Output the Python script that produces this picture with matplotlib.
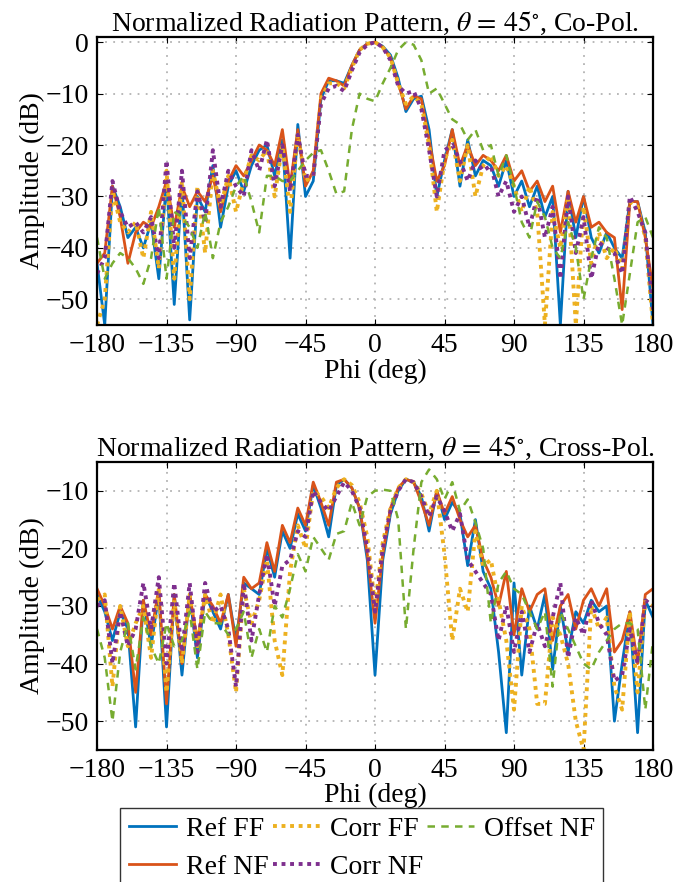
import matplotlib
matplotlib.use("Agg")
import matplotlib.pyplot as plt
import numpy as np

plt.rcParams.update({
    "font.family": ["Liberation Serif", "DejaVu Serif"],
    "mathtext.fontset": "stix",
    "font.size": 20,
    "axes.linewidth": 1.6,
    "xtick.direction": "in",
    "ytick.direction": "in",
    "xtick.top": True,
    "ytick.right": True,
    "xtick.major.size": 4,
    "ytick.major.size": 4,
    "xtick.major.width": 0.8,
    "ytick.major.width": 0.8,
    "xtick.major.pad": 6,
    "ytick.major.pad": 6,
})

# Phi sampling (deg), 5 deg steps
PHI = np.arange(-180, 181, 5)

# ---- Co-Pol (top panel), dB ----
co_ref_ff = [-43, -55, -28, -32, -38, -36, -40, -35, -46, -27, -51, -28, -54, -30, -33, -24,
             -36, -28, -25, -29, -24, -21, -20, -26, -19, -42, -16, -30, -27, -11, -7.5, -7.5,
             -8, -4.5, -1.5, -0.3, 0, -0.8, -2.5, -7, -13.5, -11, -10.5, -17, -30, -23, -17, -28,
             -19, -26, -23, -24, -28, -23, -30, -27, -32, -28, -34, -30, -55, -29, -38, -30,
             -38, -41, -37, -40, -42, -31, -31, -37, -55]
co_ref_nf = [-43, -41, -28, -34, -43, -37, -35, -36, -32, -27, -36, -28, -32, -29, -31, -26,
             -33, -27, -24, -26, -23, -20, -21, -24, -17, -28, -17, -28, -25, -10, -7, -7.5,
             -8.5, -4.5, -1.5, -0.3, 0, -1, -3, -8, -13, -10.5, -11, -19, -27, -24, -17, -24,
             -20, -24, -22, -23, -25, -22, -27, -25, -29, -27, -31, -28, -37, -29, -35, -30,
             -36, -35, -37, -38, -52, -31, -31, -38, -48]
co_corr_ff = [-55, -50, -29, -35, -37, -35, -42, -33, -44, -25, -46, -27, -50, -28, -41, -25,
              -32, -26, -33, -27, -22, -23, -21, -30, -20, -33, -18, -27, -26, -11, -8, -8,
              -9, -5, -1.5, -0.3, 0, -1, -3, -8, -12, -10.5, -12, -20, -33, -23, -19, -27,
              -20, -30, -24, -22, -26, -24, -28, -33, -28, -33, -55, -33, -40, -30, -55, -32,
              -43, -37, -42, -40, -44, -31, -32, -38, -55]
co_corr_nf = [-45, -42, -27, -33, -36, -35, -37, -34, -42, -23, -40, -25, -42, -29, -35, -21,
              -32, -25, -28, -30, -21, -25, -19, -28, -20, -29, -18, -26, -26, -12, -9, -8.5,
              -9.5, -5.5, -2, -0.5, 0, -1, -3.5, -8.5, -10, -9.5, -13, -21, -30, -21, -20, -23,
              -27, -23, -25, -24, -30, -27, -33, -30, -36, -30, -38, -32, -46, -30, -41, -34,
              -46, -39, -40, -41, -45, -30, -33, -37, -52]
co_offset_nf = [-38, -46, -43, -41, -42, -44, -47, -42, -32, -46, -33, -34, -36, -40, -33, -42,
                -35, -32, -28, -26, -31, -37, -26, -26, -27, -27, -25, -23, -21.5, -21, -25, -29.5,
                -29, -17, -10, -11, -11.5, -8, -5, -1.5, 0, -0.5, -3.5, -10, -9, -12, -15, -16,
                -19, -17, -21, -20, -26, -22, -28, -35, -38, -31, -34, -40, -42, -35, -40, -50,
                -42, -36, -38, -46, -55, -45, -35, -34, -38]

# ---- Cross-Pol (bottom panel), dB ----
x_ref_ff = [-28, -31, -36, -31, -34, -51, -29, -37, -28, -51, -28, -42, -28, -39, -28, -31,
            -34, -28, -36, -26, -27, -28, -20, -25, -17, -20, -14, -17, -9, -13, -18, -9,
            -8, -9.5, -13, -22, -42, -22, -14, -10, -8, -8.5, -11, -17, -10, -15, -12, -14,
            -23, -15, -24, -27, -38, -52, -26, -42, -30, -34, -28, -41, -30, -38, -31, -33,
            -29, -31, -30, -50, -40, -31, -52, -29, -32]
x_ref_nf = [-27, -30, -34, -30, -33, -45, -29, -35, -27, -47, -28, -40, -28, -36, -28, -30,
            -33, -28, -37, -25, -27, -26, -19, -24, -16, -19, -13, -16, -8.5, -12, -16, -8.5,
            -8, -9.5, -13, -21, -33, -21, -13, -9.5, -8, -8.5, -12, -16, -10, -14, -11, -15,
            -18, -16, -22, -25, -30, -24, -35, -27, -31, -28, -27, -36, -30, -28, -34, -29,
            -27, -30, -27, -38, -36, -31, -40, -28, -27]
x_corr_ff = [-29, -28, -44, -30, -37, -33, -30, -39, -27, -45, -29, -40, -28, -37, -28, -33,
             -28, -35, -45, -27, -33, -29, -22, -36, -42, -24, -16, -20, -10, -11, -13, -9.5,
             -8, -9, -12, -18, -30, -19, -13, -9.5, -8, -8.5, -10.5, -14, -10, -21, -36, -27,
             -31, -17, -23, -22, -29, -36, -48, -30, -34, -47, -47, -32, -35, -40, -50, -55,
             -30, -34, -32, -44, -48, -31, -45, -29, -30]
x_corr_nf = [-30, -29, -40, -31, -37, -34, -26, -34, -25, -40, -26, -38, -26, -38, -26, -31,
             -30, -34, -44, -26, -36, -28, -21, -30, -23, -22, -17, -18, -10, -12, -13.5, -11,
             -8.5, -10, -13, -20, -31, -20, -13.5, -10, -8, -8.5, -11, -14.5, -11, -13.5, -17, -14,
             -22, -24, -26, -28, -36, -30, -38, -31, -38, -33, -37, -32, -26, -39, -32, -35,
             -29, -33, -35, -43, -42, -34, -40, -29, -30]
x_offset_nf = [-34, -39, -50, -38, -33, -41, -32, -37, -40, -33, -37, -36, -31, -41, -31, -33,
               -33, -35, -34, -31, -39, -34, -38, -30, -32, -27, -21, -24, -18, -20, -22, -17.5,
               -17, -12, -16, -11, -10, -9.8, -10, -15, -34, -20, -8.5, -6.3, -8, -11.5, -8.5, -13.5,
               -11.5, -15.5, -20, -33, -26, -24, -27, -28, -31, -34, -31, -44, -31, -34, -37, -40,
               -41, -38, -36, -34, -33, -33, -34, -48, -36]

SERIES = ["Ref FF", "Ref NF", "Corr FF", "Corr NF", "Offset NF"]
COLORS = ["#0072BD", "#D95319", "#EDB120", "#7E2F8E", "#77AC30"]
STYLES = ["-", "-", (0, (1.0, 1.2)), (0, (1.0, 1.2)), (0, (3.0, 2.5))]
WIDTHS = [2.0, 2.0, 2.8, 2.8, 1.8]

XTICKS = [-180, -135, -90, -45, 0, 45, 90, 135, 180]


def draw_panel(ax, data, title, yticks, ylim):
    lines = []
    for vals, label, color, ls, lw in zip(data, SERIES, COLORS, STYLES, WIDTHS):
        (ln,) = ax.plot(PHI, vals, color=color, linestyle=ls, linewidth=lw, label=label)
        lines.append(ln)
    ax.set_xlim(-180, 180)
    ax.set_ylim(*ylim)
    ax.set_xticks(XTICKS)
    ax.set_yticks(yticks)
    ax.grid(True, color="#b3b3b3", linestyle=(0, (1, 3.5)), linewidth=1.3)
    ax.set_axisbelow(True)
    ax.set_title(title, fontsize=20, pad=3)
    ax.set_xlabel("Phi (deg)", labelpad=0)
    ax.set_ylabel("Amplitude (dB)", labelpad=0)
    return lines


fig = plt.figure(figsize=(7.0, 8.82), dpi=100)
ax1 = fig.add_axes([0.1386, 0.6315, 0.7943, 0.3265])
ax2 = fig.add_axes([0.1386, 0.1497, 0.7943, 0.3265])

draw_panel(ax1, [co_ref_ff, co_ref_nf, co_corr_ff, co_corr_nf, co_offset_nf],
           r"Normalized Radiation Pattern, $\theta\,=\,45^{\circ}$, Co-Pol.",
           [0, -10, -20, -30, -40, -50], (-55, 1))
lines = draw_panel(ax2, [x_ref_ff, x_ref_nf, x_corr_ff, x_corr_nf, x_offset_nf],
                   r"Normalized Radiation Pattern, $\theta\,=\,45^{\circ}$, Cross-Pol.",
                   [-10, -20, -30, -40, -50], (-55, -5))

# legend box runs past the bottom edge, as in the original
leg = fig.legend(lines, SERIES, ncol=3, loc="upper left",
                 bbox_to_anchor=(0.172, 0.084), fontsize=20,
                 frameon=True, fancybox=False, edgecolor="black",
                 handlelength=1.7, handletextpad=0.35, columnspacing=0.15,
                 borderpad=0.3, labelspacing=0.45, borderaxespad=0)
leg.get_frame().set_linewidth(1.0)

fig.savefig("out.png", dpi=100)
